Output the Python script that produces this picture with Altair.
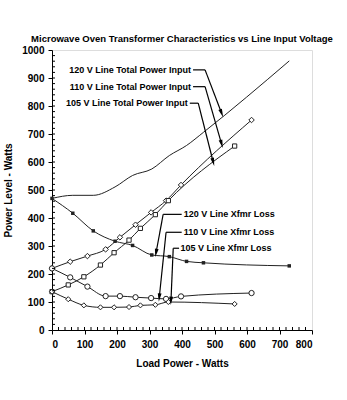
import math
import altair as alt
import pandas as pd

# ---- data ----
load_120 = [0, 64, 127, 194, 248, 307, 361, 414, 466, 730]
loss_120 = [470, 417, 354, 317, 302, 268, 262, 245, 240, 229]
total_120 = [470, 481, 481, 511, 552, 575, 623, 659, 706, 961]

load_110 = [0, 56, 109, 165, 209, 257, 305, 351, 397, 614]
loss_110 = [220, 188, 155, 121, 121, 117, 114, 111, 120, 132]
total_110 = [220, 244, 264, 288, 331, 376, 420, 462, 518, 750]

load_105 = [0, 50, 98, 149, 191, 237, 272, 318, 358, 562]
loss_105 = [137, 110, 88, 81, 81, 82, 88, 90, 100, 93]
total_105 = [137, 161, 190, 232, 276, 321, 363, 412, 462, 657]

x_ticks = [0, 100, 200, 300, 400, 500, 600, 700, 800]
y_ticks = [0, 100, 200, 300, 400, 500, 600, 700, 800, 900, 1000]

# annotations (data coordinates)
ann_text = ["120 V Line Total Power Input", "110 V Line Total Power Input",
            "105 V Line Total Power Input", "120 V Line Xfmr Loss",
            "110 V Line Xfmr Loss", "105 V Line Xfmr Loss"]
ann_align = ["right", "right", "right", "left", "left", "left"]
ann_tx = [428, 428, 418, 405, 405, 395]
ann_ty = [929, 869, 810, 413, 349, 292]
ann_dash_x = [434, 434, 424, 399, 399, 391]
ann_ax0 = [471, 471, 450, 342, 351, 373]
ann_ax1 = [522, 522, 496, 320, 330, 366]
ann_ay1 = [774, 664, 600, 275, 116, 104]

W, H = 260, 280
XMAX, YMAX = 800, 1000
FONT = "Liberation Sans"

rows = []
def add(name, xs, ys):
    for i, (a, b) in enumerate(zip(xs, ys)):
        rows.append(dict(series=name, load=a, power=b, order=i))

add("120 V Total", load_120, total_120)
add("120 V Loss", load_120, loss_120)
add("110 V Total", load_110, total_110)
add("110 V Loss", load_110, loss_110)
add("105 V Total", load_105, total_105)
add("105 V Loss", load_105, loss_105)
df = pd.DataFrame(rows)

axis_style = dict(grid=False, tickSize=4, labelFont=FONT, titleFont=FONT,
                  labelFontSize=10, titleFontSize=10, labelFontWeight="bold",
                  titleFontWeight="bold", domainColor="black", tickColor="black",
                  labelColor="black", titleColor="black", format="d")

xenc = alt.X("load:Q", scale=alt.Scale(domain=[0, XMAX], nice=False, zero=True),
             axis=alt.Axis(values=x_ticks, title="Load Power - Watts",
                           labelPadding=5, titlePadding=9, **axis_style))
yenc = alt.Y("power:Q", scale=alt.Scale(domain=[0, YMAX], nice=False, zero=True),
             axis=alt.Axis(values=y_ticks, title="Power Level - Watts",
                           labelPadding=4, titlePadding=8, **axis_style))

base = alt.Chart(df)
lines = base.mark_line(color="#222222", strokeWidth=1, interpolate="monotone").encode(
    x=xenc, y=yenc, detail="series:N", order="order:Q")

def pts(name, shape, size, filled):
    return base.transform_filter(alt.datum.series == name).mark_point(
        shape=shape, size=size, filled=filled, color="#222222",
        fill="#222222" if filled else "white", strokeWidth=1, opacity=1
    ).encode(x=xenc, y=yenc)

markers = [
    pts("120 V Loss", "square", 12, True),
    pts("110 V Total", "diamond", 30, False),
    pts("110 V Loss", "circle", 28, False),
    pts("105 V Total", "square", 18, False),
    pts("105 V Loss", "diamond", 26, False),
]

# minor ticks inside the frame
mx = pd.DataFrame({"load": [v for v in range(20, XMAX, 20)]})
my = pd.DataFrame({"power": [v for v in range(20, YMAX, 20)]})
minor_x = alt.Chart(mx).mark_rule(color="black", strokeWidth=1).encode(
    x=xenc, y=alt.value(H), y2=alt.value(H - 3))
minor_y = alt.Chart(my).mark_rule(color="black", strokeWidth=1).encode(
    y=yenc, x=alt.value(0), x2=alt.value(3))

# annotations
n = len(ann_text)
segs = []
for i in range(n):
    segs.append(dict(load=ann_dash_x[i], power=ann_ty[i], l2=ann_ax0[i], p2=ann_ty[i]))
    segs.append(dict(load=ann_ax0[i], power=ann_ty[i], l2=ann_ax1[i], p2=ann_ay1[i]))
seg_df = pd.DataFrame(segs)
seg_layer = alt.Chart(seg_df).mark_rule(color="black", strokeWidth=1.2).encode(
    x=xenc, y=yenc, x2="l2:Q", y2="p2:Q")

heads = []
for i in range(n):
    dx = (ann_ax1[i] - ann_ax0[i]) * W / XMAX
    dy = -(ann_ay1[i] - ann_ty[i]) * H / YMAX
    ang = math.degrees(math.atan2(dx, -dy)) % 360
    heads.append(dict(load=ann_ax1[i], power=ann_ay1[i], ang=ang))
head_df = pd.DataFrame(heads)
head_layer = alt.Chart(head_df).mark_point(
    shape="M0,-1L-0.45,1L0.45,1Z", size=70, filled=True, fill="black",
    color="black", strokeWidth=0, opacity=1
).encode(x=xenc, y=yenc, angle=alt.Angle("ang:Q", scale=None))

txt_df = pd.DataFrame(dict(load=ann_tx, power=ann_ty, label=ann_text, align=ann_align))
txt_r = alt.Chart(txt_df).transform_filter(alt.datum.align == "right").mark_text(
    align="right", baseline="middle", font=FONT, fontSize=9, fontWeight="bold",
    color="black").encode(x=xenc, y=yenc, text="label:N")
txt_l = alt.Chart(txt_df).transform_filter(alt.datum.align == "left").mark_text(
    align="left", baseline="middle", font=FONT, fontSize=9, fontWeight="bold",
    color="black").encode(x=xenc, y=yenc, text="label:N")

chart = alt.layer(lines, *markers, minor_x, minor_y, seg_layer, head_layer, txt_r, txt_l).properties(
    width=W, height=H,
    title=alt.TitleParams("Microwave Oven Transformer Characteristics vs Line Input Voltage",
                          font=FONT, fontSize=9.5, fontWeight="bold", anchor="middle",
                          color="black", offset=2),
    autosize=alt.AutoSizeParams(type="none"),
    padding={"left": 52, "top": 50, "right": 35, "bottom": 70},
).configure_view(stroke="black", strokeWidth=1).configure(background="white")

chart.save("out.html", embed_options={"renderer": "svg", "actions": False})
